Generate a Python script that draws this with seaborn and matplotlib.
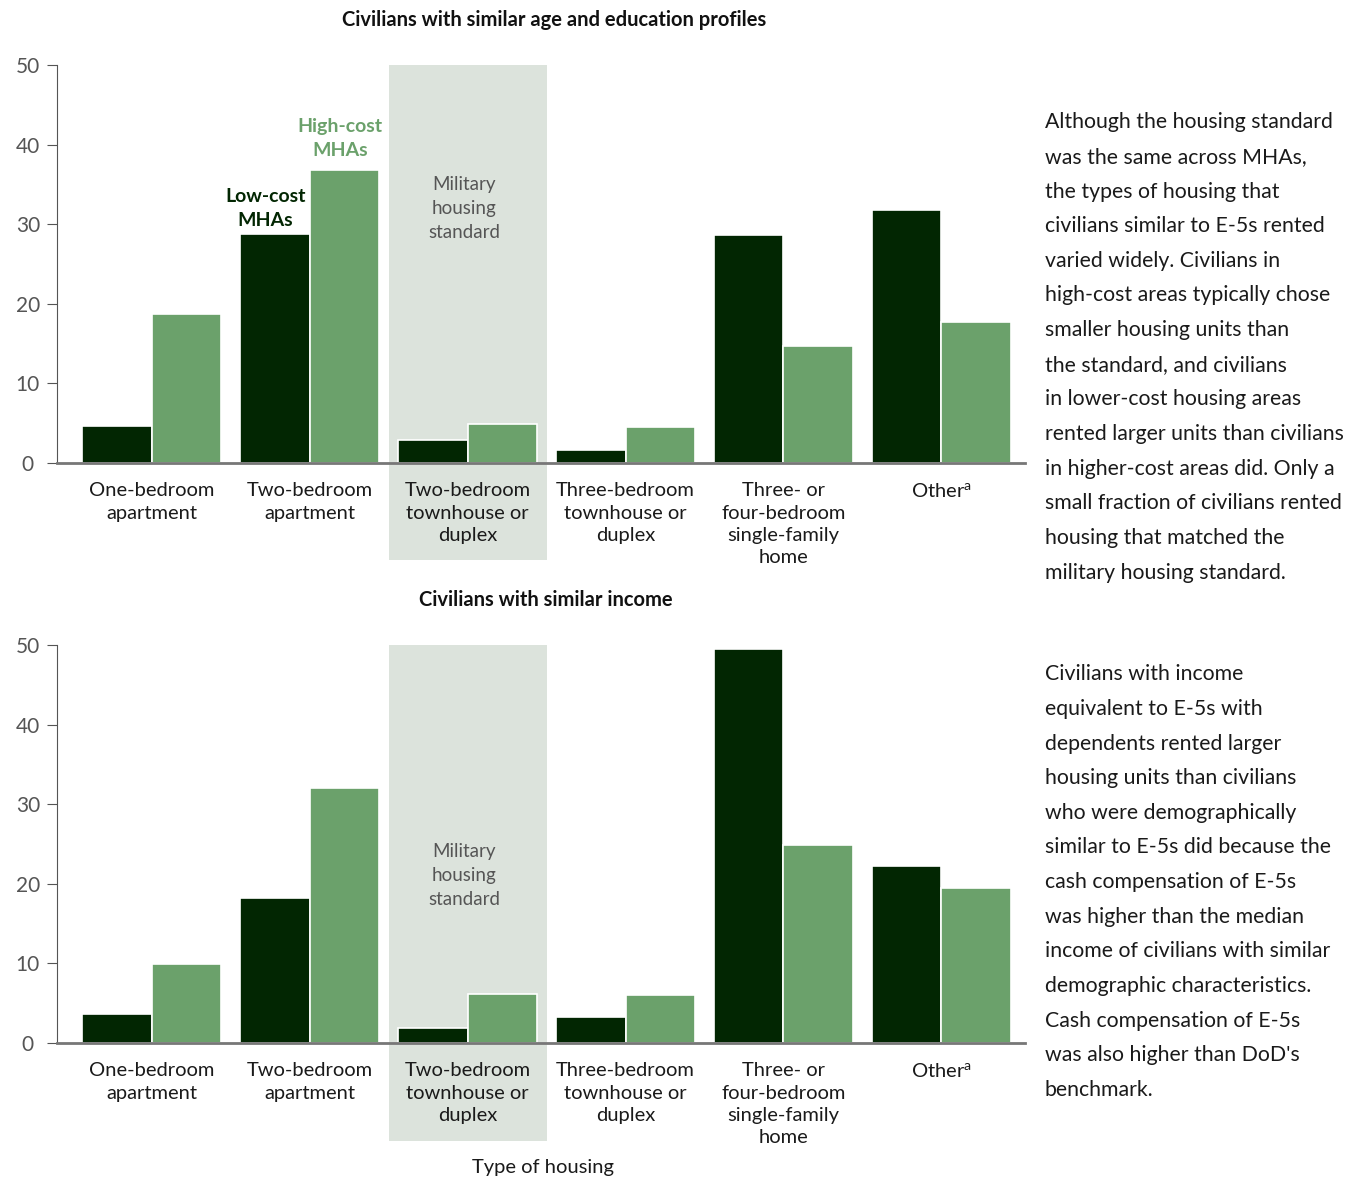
import pandas as pd
import matplotlib
matplotlib.use('Agg')
import matplotlib.pyplot as plt
import seaborn as sns

# Data (percent of civilians)
housing_types = [
    "One-bedroom\napartment",
    "Two-bedroom\napartment",
    "Two-bedroom\ntownhouse or\nduplex",
    "Three-bedroom\ntownhouse or\nduplex",
    "Three- or\nfour-bedroom\nsingle-family\nhome",
    "Other$^{\\mathregular{a}}$",
]
series_names = ["Low-cost MHAs", "High-cost MHAs"]

age_edu_low = [4.7, 28.8, 2.9, 1.6, 28.6, 31.8]
age_edu_high = [18.7, 36.8, 4.9, 4.5, 14.7, 17.7]

income_low = [3.6, 18.2, 1.9, 3.3, 49.5, 22.2]
income_high = [9.9, 32.0, 6.2, 6.0, 24.9, 19.5]

yticks = [0, 10, 20, 30, 40, 50]

top_note = ("Although the housing standard\nwas the same across MHAs,\nthe types of housing that\n"
            "civilians similar to E-5s rented\nvaried widely. Civilians in\n"
            "high-cost areas typically chose\nsmaller housing units than\n"
            "the standard, and civilians\nin lower-cost housing areas\n"
            "rented larger units than civilians\nin higher-cost areas did. Only a\n"
            "small fraction of civilians rented\nhousing that matched the\n"
            "military housing standard.")
bottom_note = ("Civilians with income\nequivalent to E-5s with\ndependents rented larger\n"
               "housing units than civilians\nwho were demographically\n"
               "similar to E-5s did because the\ncash compensation of E-5s\n"
               "was higher than the median\nincome of civilians with similar\n"
               "demographic characteristics.\nCash compensation of E-5s\n"
               "was also higher than DoD's\nbenchmark.")

DARK = "#022602"
LIGHT = "#6ba16b"
SHADE = "#dce3dc"
GRAY = "#555555"

sns.set_style("white")
plt.rcParams['font.family'] = ['Lato', 'DejaVu Sans']


def make_frame(low, high):
    rows = []
    for cat, lo, hi in zip(housing_types, low, high):
        rows.append({"type": cat, "series": series_names[0], "pct": lo})
        rows.append({"type": cat, "series": series_names[1], "pct": hi})
    return pd.DataFrame(rows)


def draw_panel(ax, low, high, label_y):
    df = make_frame(low, high)
    ax.axvspan(1.5, 2.5, ymin=-0.245, ymax=1, color=SHADE, zorder=0, clip_on=False, lw=0)
    sns.barplot(data=df, x="type", y="pct", hue="series", order=housing_types,
                hue_order=series_names, palette=[DARK, LIGHT], width=0.88,
                saturation=1, edgecolor="white", linewidth=1.2, legend=False,
                ax=ax, zorder=2)
    ax.set_xlim(-0.6, 5.53)
    ax.set_ylim(0, 50)
    ax.set_yticks(yticks)
    ax.set_xlabel("")
    ax.set_ylabel("")
    for s in ["top", "right"]:
        ax.spines[s].set_visible(False)
    ax.spines["left"].set_color(GRAY)
    ax.spines["bottom"].set_color("#777777")
    ax.spines["bottom"].set_linewidth(2)
    ax.tick_params(axis="y", left=True, length=7, color=GRAY, labelcolor=GRAY,
                   labelsize=15, pad=14)
    ax.tick_params(axis="x", length=0, labelsize=14.5, labelcolor="#1a1a1a", pad=14)
    for lab in ax.get_yticklabels():
        lab.set_horizontalalignment("center")
    for lab in ax.get_xticklabels():
        lab.set_linespacing(1.38)
        lab.set_verticalalignment("top")
    ax.text(1.98, label_y, "Military\nhousing\nstandard", ha="center", va="center",
            fontsize=13.5, color=GRAY, linespacing=1.5, zorder=3)
    ax.set_facecolor("none")


fig = plt.figure(figsize=(13.65, 11.82), dpi=100)
ax1 = fig.add_axes([0.0418, 0.6083, 0.7092, 0.3367])
ax2 = fig.add_axes([0.0418, 0.1176, 0.7092, 0.3367])

draw_panel(ax1, age_edu_low, age_edu_high, 32.0)
draw_panel(ax2, income_low, income_high, 21.0)

ax1.text(0.72, 32.0, "Low-cost\nMHAs", ha="center", va="center", fontsize=14,
         fontweight="bold", color=DARK, linespacing=1.5)
ax1.text(1.19, 40.8, "High-cost\nMHAs", ha="center", va="center", fontsize=14,
         fontweight="bold", color=LIGHT, linespacing=1.5)

fig.text(0.406, 0.983, "Civilians with similar age and education profiles", ha="center",
         va="center", fontsize=14.5, fontweight="bold", color="#111111")
fig.text(0.40, 0.492, "Civilians with similar income", ha="center", va="center",
         fontsize=14.5, fontweight="bold", color="#111111")
fig.text(0.398, 0.012, "Type of housing", ha="center", va="center", fontsize=14.5,
         color="#1a1a1a")

fig.text(0.7655, 0.905, top_note, ha="left", va="top", fontsize=15.3,
         color="#1a1a1a", linespacing=1.915)
fig.text(0.7655, 0.438, bottom_note, ha="left", va="top", fontsize=15.3,
         color="#1a1a1a", linespacing=1.915)

fig.savefig("out.png", dpi=100, facecolor="white")
